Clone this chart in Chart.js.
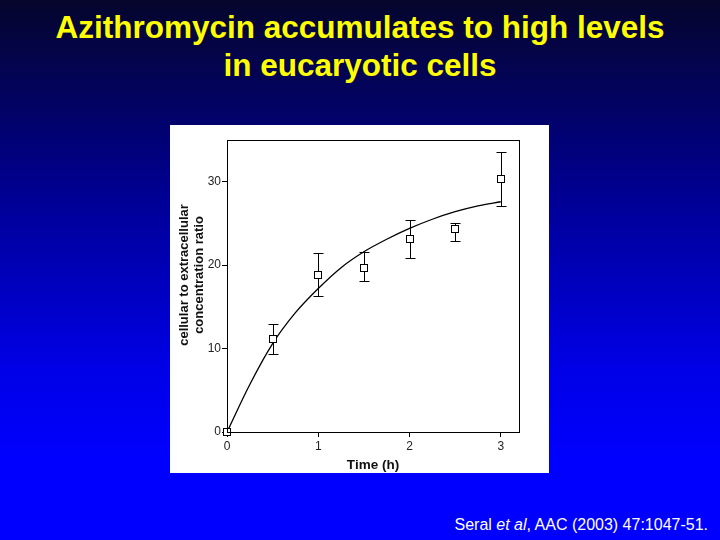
<!DOCTYPE html>
<html>
<head>
<meta charset="utf-8">
<script src="https://cdn.jsdelivr.net/npm/chart.js@4/dist/chart.umd.min.js"></script>
<style>
  html, body { margin: 0; padding: 0; }
  body {
    width: 720px; height: 540px; overflow: hidden; position: relative;
    background: linear-gradient(to bottom, #05052c 0%, #000090 35%, #0000e6 68%, #0000ff 85%, #0000ff 100%);
    font-family: "Liberation Sans", Arial, sans-serif;
  }
  #title {
    position: absolute; left: 0; top: 8px; width: 720px;
    text-align: center; color: #ffff00; font-weight: bold;
    font-size: 31.5px; line-height: 38px;
  }
  #panel {
    position: absolute; left: 170px; top: 125px; width: 379px; height: 348px;
    background: #ffffff;
  }
  #cite {
    position: absolute; right: 12px; top: 516px;
    color: #ffffff; font-size: 16px; white-space: nowrap;
  }
</style>
</head>
<body>
<div id="title">Azithromycin accumulates to high levels<br>in eucaryotic cells</div>
<div id="panel"><canvas id="chart" width="379" height="348"></canvas></div>
<div id="cite">Seral <i>et al</i>, AAC (2003) 47:1047-51.</div>
<script>
// measured points (mean, upper and lower end of error bar)
const TIME = [0, 0.5, 1, 1.5, 2, 2.5, 3];
const MEAN = [0, 11.2, 18.8, 19.7, 23.1, 24.3, 30.3];
const HIGH = [0, 13.0, 21.5, 21.6, 25.4, 25.0, 33.6];
const LOW  = [0, 9.3, 16.3, 18.1, 20.9, 22.9, 27.1];

// fitted curve
const FIT_T = [0, 0.25, 0.5, 0.75, 1, 1.25, 1.5, 1.75, 2, 2.25, 2.5, 2.75, 3];
const FIT_Y = [0, 5.7, 10.6, 14.3, 17.2, 19.7, 21.6, 23.1, 24.4, 25.5, 26.4, 27.1, 27.6];

const X_TICKS = [0, 1, 2, 3];
const Y_TICKS = [0, 10, 20, 30];
const Y_TITLE = ['cellular to extracellular', 'concentration ratio'];

const errorBars = {
  id: 'errorBars',
  afterDatasetsDraw(chart) {
    const { ctx, scales: { x, y } } = chart;
    ctx.save();
    ctx.strokeStyle = '#000';
    ctx.lineWidth = 1;
    for (let i = 0; i < TIME.length; i++) {
      if (HIGH[i] === LOW[i]) continue;
      const px = Math.round(x.getPixelForValue(TIME[i])) + 0.5;
      const hi = Math.round(y.getPixelForValue(HIGH[i])) + 0.5;
      const lo = Math.round(y.getPixelForValue(LOW[i])) + 0.5;
      ctx.beginPath();
      ctx.moveTo(px, hi); ctx.lineTo(px, lo);
      ctx.moveTo(px - 5, hi); ctx.lineTo(px + 5, hi);
      ctx.moveTo(px - 5, lo); ctx.lineTo(px + 5, lo);
      ctx.stroke();
    }
    // squares go back on top of the bars
    chart.getDatasetMeta(1).data.forEach(pt => {
      const cx = Math.round(pt.x), cy = Math.round(pt.y);
      ctx.fillStyle = '#fff';
      ctx.fillRect(cx - 3.5, cy - 3.5, 7, 7);
      ctx.strokeRect(cx - 3.5, cy - 3.5, 7, 7);
    });
    // box round the plot
    const a = chart.chartArea;
    ctx.strokeRect(Math.round(a.left) + 0.5, Math.round(a.top) + 0.5,
      Math.round(a.right - a.left), Math.round(a.bottom - a.top));

    // y axis title, placed a bit above the plot centre like the original
    ctx.fillStyle = '#111';
    ctx.font = 'bold 13px "Liberation Sans"';
    ctx.textAlign = 'center';
    ctx.textBaseline = 'middle';
    Y_TITLE.forEach((line, i) => {
      ctx.save();
      ctx.translate(14 + i * 15.5, 150);
      ctx.rotate(-Math.PI / 2);
      ctx.fillText(line, 0, 0);
      ctx.restore();
    });
    ctx.restore();
  }
};

new Chart(document.getElementById('chart'), {
  type: 'scatter',
  data: {
    datasets: [
      {
        label: 'fit',
        data: FIT_T.map((t, i) => ({ x: t, y: FIT_Y[i] })),
        showLine: true,
        borderColor: '#000',
        borderWidth: 1.3,
        pointRadius: 0,
        cubicInterpolationMode: 'monotone'
      },
      {
        label: 'measured',
        data: TIME.map((t, i) => ({ x: t, y: MEAN[i] })),
        pointStyle: 'rect',
        pointRadius: 3.5,
        backgroundColor: '#fff',
        borderColor: '#000',
        borderWidth: 1
      }
    ]
  },
  options: {
    responsive: false,
    animation: false,
    layout: { padding: { left: 0, top: 15, right: 30, bottom: 0 } },
    plugins: { legend: { display: false }, tooltip: { enabled: false } },
    scales: {
      x: {
        type: 'linear', min: 0, max: 3.2,
        afterBuildTicks: s => { s.ticks = X_TICKS.map(v => ({ value: v })); },
        afterFit: s => { s.height = 41; },
        grid: { drawOnChartArea: false, drawTicks: true, tickLength: 5, color: '#000' },
        border: { display: true, color: '#000' },
        ticks: { color: '#222', font: { family: 'Liberation Sans', size: 12 }, padding: 2 },
        title: { display: true, text: 'Time (h)', color: '#111',
                 font: { family: 'Liberation Sans', size: 13.5, weight: 'bold' }, padding: { top: 4, bottom: 0 } }
      },
      y: {
        type: 'linear', min: 0, max: 35,
        afterBuildTicks: s => { s.ticks = Y_TICKS.map(v => ({ value: v })); },
        afterFit: s => { s.width = 57; },
        grid: { drawOnChartArea: false, drawTicks: true, tickLength: 5, color: '#000' },
        border: { display: true, color: '#000' },
        ticks: { color: '#222', font: { family: 'Liberation Sans', size: 12 }, padding: 1 }
      }
    }
  },
  plugins: [errorBars]
});
</script>
</body>
</html>
